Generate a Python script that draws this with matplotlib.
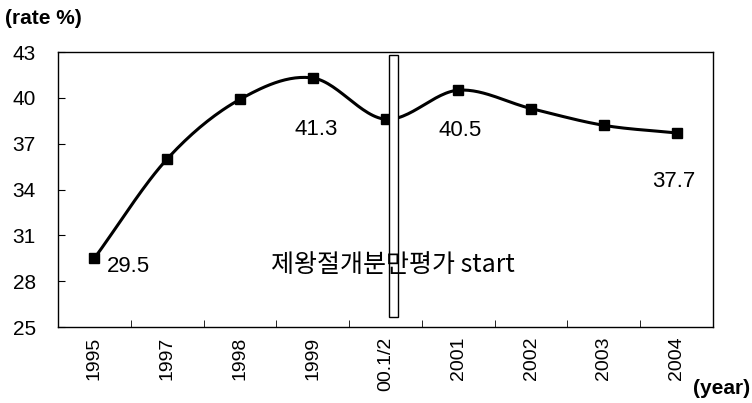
import numpy as np
import matplotlib
matplotlib.use("Agg")
import matplotlib.pyplot as plt
import matplotlib.patches as mpatches

plt.rcParams['font.family'] = ['Liberation Sans', 'Noto Sans CJK KR']

years = ["1995", "1997", "1998", "1999", "00.1/2", "2001", "2002", "2003", "2004"]
rates = [29.5, 36.0, 39.9, 41.3, 38.6, 40.5, 39.3, 38.2, 37.7]
labelled = {0: "29.5", 3: "41.3", 5: "40.5", 8: "37.7"}
label_offsets = {0: (12, -8), 3: (3, -52), 5: (2, -40), 8: (-3, -49)}  # pixels
yticks = [25, 28, 31, 34, 37, 40, 43]


def smooth(x, y, n=30):
    # catmull-rom curve through the points
    x = np.asarray(x, float)
    y = np.asarray(y, float)
    px = np.concatenate([[2 * x[0] - x[1]], x, [2 * x[-1] - x[-2]]])
    py = np.concatenate([[2 * y[0] - y[1]], y, [2 * y[-1] - y[-2]]])
    xs, ys = [], []
    t = np.linspace(0, 1, n)
    for i in range(1, len(px) - 2):
        for p, out in ((px, xs), (py, ys)):
            p0, p1, p2, p3 = p[i - 1], p[i], p[i + 1], p[i + 2]
            out.extend(0.5 * ((2 * p1) + (-p0 + p2) * t +
                              (2 * p0 - 5 * p1 + 4 * p2 - p3) * t ** 2 +
                              (-p0 + 3 * p1 - 3 * p2 + p3) * t ** 3))
    return np.array(xs), np.array(ys)


fig = plt.figure(figsize=(7.52, 4.03), dpi=100)
ax = fig.add_axes([58 / 752, 1 - 327 / 403, 655 / 752, 275 / 403])

idx = np.arange(len(years))
sx, sy = smooth(idx, rates)
ax.plot(sx, sy, color="black", linewidth=2.2, zorder=2)
ax.plot(idx, rates, linestyle="none", marker="s", markersize=7,
        color="black", zorder=3)

for i, txt in labelled.items():
    dx, dy = label_offsets[i]
    ha = "left" if i == 0 else "center"
    ax.annotate(txt, (idx[i], rates[i]), xytext=(dx, dy), textcoords="offset pixels",
                ha=ha, va="center", fontsize=16)

# marker bar for the start of the evaluation
bar = mpatches.Rectangle((4.05, 25.65), 0.12, 17.15, facecolor="white",
                         edgecolor="black", linewidth=1.0, zorder=4)
ax.add_patch(bar)

ax.text(4.1, 29.05, "제왕절개분만평가 start", ha="center", va="center",
        fontsize=18, family=['Noto Sans CJK KR'], zorder=5)

ax.set_xlim(-0.5, len(years) - 0.5)
ax.set_ylim(25, 43)
ax.set_yticks(yticks)
ax.set_yticklabels([str(v) for v in yticks], fontsize=15)
ax.tick_params(axis="y", direction="in", length=5, pad=16, left=True, right=False)

ax.set_xticks(idx)
ax.set_xticklabels(years, rotation=90, fontsize=14)
ax.set_xticks(np.arange(len(years) + 1) - 0.5, minor=True)
ax.tick_params(axis="x", which="major", length=0, pad=7)
ax.tick_params(axis="x", which="minor", direction="in", length=5)

for s in ax.spines.values():
    s.set_linewidth(1.0)
    s.set_color("black")

fig.text(5 / 752, 1 - 18 / 403, "(rate %)", fontsize=15, fontweight="bold",
         ha="left", va="center")
fig.text(750 / 752, 1 - 389 / 403, "(year)", fontsize=15, fontweight="bold",
         ha="right", va="center")

plt.savefig("out.png", dpi=100)
plt.close()
